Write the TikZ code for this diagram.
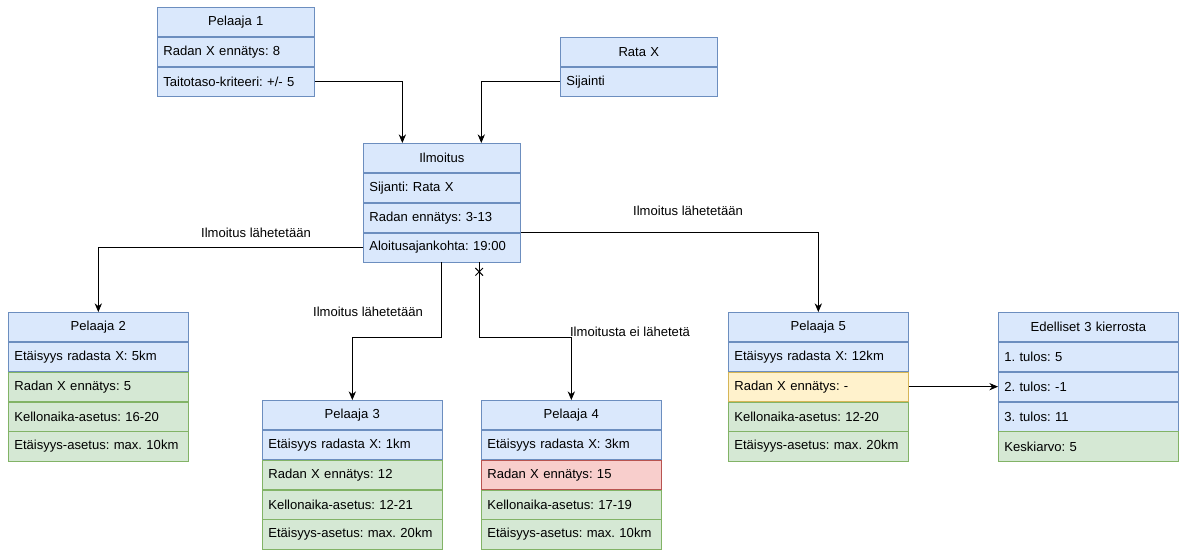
\documentclass[tikz,border=0pt]{standalone}
\usepackage{fontspec}
\setmainfont{Liberation Sans}
\frenchspacing
\usetikzlibrary{shapes.misc, arrows.meta, positioning}

\definecolor{blueFill}{HTML}{DAE8FC}
\definecolor{blueLine}{HTML}{6C8EBF}
\definecolor{greenFill}{HTML}{D5E8D4}
\definecolor{greenLine}{HTML}{82B366}
\definecolor{redFill}{HTML}{F8CECC}
\definecolor{redLine}{HTML}{B85450}
\definecolor{yellowFill}{HTML}{FFF2CC}
\definecolor{yellowLine}{HTML}{D6B656}

\begin{document}
\begin{tikzpicture}[
  x=0.75pt, y=-0.75pt,
  every node/.style = {font=\fontsize{9.8}{12}\selectfont},
  cell/.style = {
    minimum height=21.9pt,
    inner xsep=4.5pt,
    inner ysep=3pt,
    line width=0.5pt,
    anchor=north
  },
  narrow/.style = {minimum width=117.75pt, text width=108.75pt},
  wide/.style = {minimum width=135pt, text width=126pt},
  head/.style = {cell, fill=blueFill, draw=blueLine, align=center},
  blue row/.style = {cell, fill=blueFill, draw=blueLine, align=left},
  green row/.style = {cell, fill=greenFill, draw=greenLine, align=left},
  red row/.style = {cell, fill=redFill, draw=redLine, align=left},
  yellow row/.style = {cell, fill=yellowFill, draw=yellowLine, align=left},
  edge label/.style = {inner sep=1pt},
  arrow/.style = {
    -{Stealth[length=6.5pt, width=5.5pt]},
    black,
    line width=0.6pt
  }
]
\useasboundingbox (0,0) rectangle (1181,550);

% Pelaaja 1
\node[head, narrow, anchor=north west] (p1) at (157,7) {Pelaaja 1};
\node[blue row, narrow, below=0pt of p1] (p1a) {Radan X ennätys: 8};
\node[blue row, narrow, below=0pt of p1a] (p1b) {Taitotaso-kriteeri: +/- 5};

% Rata X
\node[head, narrow, anchor=north west] (rata) at (560,37) {Rata X};
\node[blue row, narrow, below=0pt of rata] (rataa) {Sijainti};

% Ilmoitus
\node[head, narrow, anchor=north west] (ilm) at (363,143) {Ilmoitus};
\node[blue row, narrow, below=0pt of ilm] (ilma) {Sijanti: Rata X};
\node[blue row, narrow, below=0pt of ilma] (ilmb) {Radan ennätys: 3-13};
\node[blue row, narrow, below=0pt of ilmb] (ilmc) {Aloitusajankohta: 19:00};

% Pelaaja 2
\node[head, wide, anchor=north west] (p2) at (8,312) {Pelaaja 2};
\node[blue row, wide, below=0pt of p2] (p2a) {Etäisyys radasta X: 5km};
\node[green row, wide, below=0pt of p2a] (p2b) {Radan X ennätys: 5};
\node[green row, wide, below=0pt of p2b] (p2c) {Kellonaika-asetus: 16-20};
\node[green row, wide, below=0pt of p2c] (p2d) {Etäisyys-asetus: max. 10km};

% Pelaaja 3
\node[head, wide, anchor=north west] (p3) at (262,400) {Pelaaja 3};
\node[blue row, wide, below=0pt of p3] (p3a) {Etäisyys radasta X: 1km};
\node[green row, wide, below=0pt of p3a] (p3b) {Radan X ennätys: 12};
\node[green row, wide, below=0pt of p3b] (p3c) {Kellonaika-asetus: 12-21};
\node[green row, wide, below=0pt of p3c] (p3d) {Etäisyys-asetus: max. 20km};

% Pelaaja 4
\node[head, wide, anchor=north west] (p4) at (481,400) {Pelaaja 4};
\node[blue row, wide, below=0pt of p4] (p4a) {Etäisyys radasta X: 3km};
\node[red row, wide, below=0pt of p4a] (p4b) {Radan X ennätys: 15};
\node[green row, wide, below=0pt of p4b] (p4c) {Kellonaika-asetus: 17-19};
\node[green row, wide, below=0pt of p4c] (p4d) {Etäisyys-asetus: max. 10km};

% Pelaaja 5
\node[head, wide, anchor=north west] (p5) at (728,312) {Pelaaja 5};
\node[blue row, wide, below=0pt of p5] (p5a) {Etäisyys radasta X: 12km};
\node[yellow row, wide, below=0pt of p5a] (p5b) {Radan X ennätys: -};
\node[green row, wide, below=0pt of p5b] (p5c) {Kellonaika-asetus: 12-20};
\node[green row, wide, below=0pt of p5c] (p5d) {Etäisyys-asetus: max. 20km};

% Edelliset kierrokset
\node[head, wide, anchor=north west] (ed) at (998,312) {Edelliset 3 kierrosta};
\node[blue row, wide, below=0pt of ed] (eda) {1. tulos: 5};
\node[blue row, wide, below=0pt of eda] (edb) {2. tulos: -1};
\node[blue row, wide, below=0pt of edb] (edc) {3. tulos: 11};
\node[green row, wide, below=0pt of edc] (edd) {Keskiarvo: 5};

% connectors
\draw[arrow] (p1b.east) -| ([xshift=-29.6pt]ilm.north);
\draw[arrow] (rataa.west) -| ([xshift=29.6pt]ilm.north);

\draw[arrow] (ilmc.west) -| (p2.north);
\draw[arrow] (ilmb.south east) -| (p5.north);
\draw[arrow] (ilmc.south) -- ++(0,75) -| (p3.north);
\draw[arrow] ([xshift=28pt]ilmc.south) -- ++(0,75) -| (p4.north);
\node[cross out, draw, line width=0.7pt, minimum size=5pt, inner sep=0pt]
  (nox) at ([xshift=28pt, yshift=-7pt]ilmc.south) {};

\draw[arrow] (p5b.east) -- (edb.west);

% edge labels
\node[edge label] (l2) at (256,233) {Ilmoitus lähetetään};
\node[edge label] (l3) at (368,312) {Ilmoitus lähetetään};
\node[edge label] (l4) at (630,332) {Ilmoitusta ei lähetetä};
\node[edge label] (l5) at (688,211) {Ilmoitus lähetetään};

\end{tikzpicture}
\end{document}
